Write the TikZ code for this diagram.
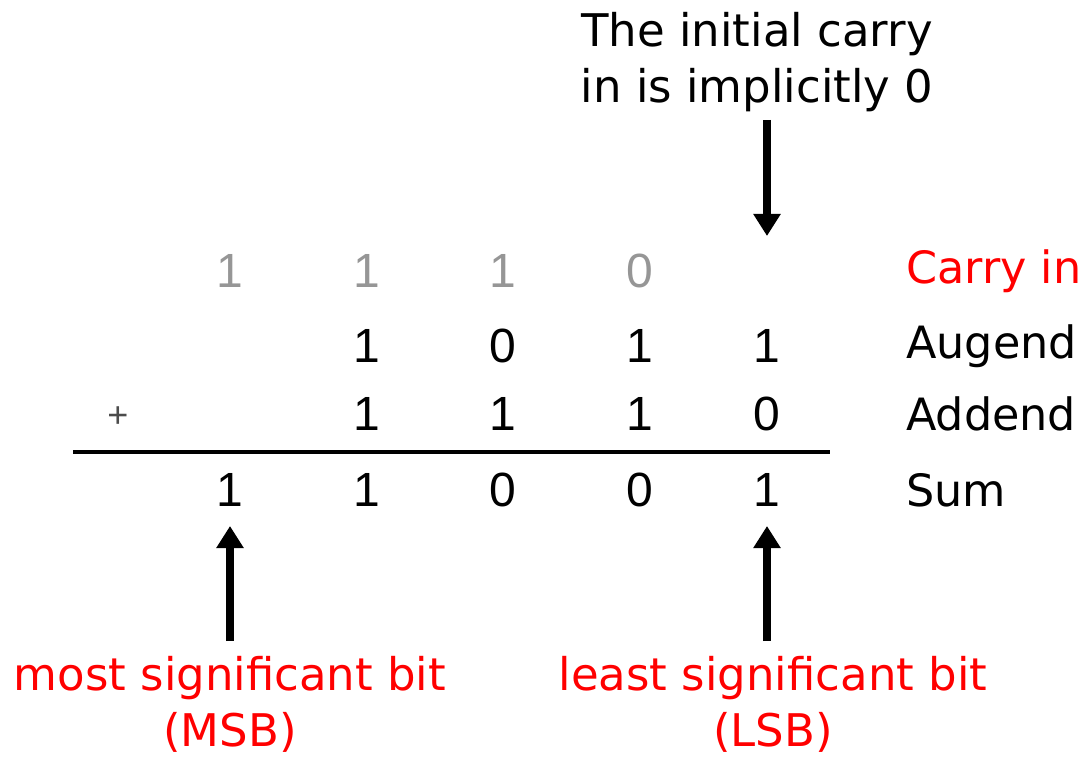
\documentclass[tikz,border=0pt]{standalone}
\usepackage{fontspec}
\setmainfont{DejaVu Sans}
\newfontfamily\digitfont{Liberation Sans}
\usetikzlibrary{arrows.meta}
\definecolor{cred}{RGB}{255,0,0}
\definecolor{cgray}{RGB}{150,150,150}
\begin{document}
\begin{tikzpicture}[x=1pt,y=-1pt,
  dig/.style={inner sep=0pt,font=\digitfont\fontsize{48}{52}\selectfont},
  carrydig/.style={dig,text=cgray},
  lbl/.style={inner sep=0pt,anchor=west,font=\fontsize{44.5}{50}\selectfont},
  note/.style={inner sep=0pt,align=center,font=\fontsize{45}{56}\selectfont},
  bigarrow/.style={line width=8pt,-{Triangle[width=26pt,length=22pt]}}]
\useasboundingbox (0,0) rectangle (1085,759);
% carry row
\node[carrydig] (c4) at (230,271) {1};
\node[carrydig] (c3) at (367,271) {1};
\node[carrydig] (c2) at (503,271) {1};
\node[carrydig] (c1) at (640,271) {0};
\coordinate (c0) at (767,236);
% augend
\node[dig] (a3) at (367,346) {1};
\node[dig] (a2) at (503,346) {0};
\node[dig] (a1) at (640,346) {1};
\node[dig] (a0) at (767,346) {1};
% addend
\node[inner sep=0pt,text=black!70,font=\digitfont\fontsize{36}{38}\selectfont] (plus) at (118,417) {+};
\node[dig] (b3) at (367,414) {1};
\node[dig] (b2) at (503,414) {1};
\node[dig] (b1) at (640,414) {1};
\node[dig] (b0) at (767,414) {0};
% rule
\coordinate (r1) at (73,452);
\coordinate (r2) at (830,452);
\draw[line width=4.5pt] (r1) -- (r2);
% sum
\node[dig] (s4) at (230,490) {1};
\node[dig] (s3) at (367,490) {1};
\node[dig] (s2) at (503,490) {0};
\node[dig] (s1) at (640,490) {0};
\node[dig] (s0) at (767,490) {1};
% labels
\node[lbl,text=cred] (lc) at (906,271) {Carry in};
\node[lbl] (la) at (906,346) {Augend};
\node[lbl] (lb) at (906,414) {Addend};
\node[lbl] (ls) at (906,490) {Sum};
% notes
\node[note] (top) at (757,62) {The initial carry\\in is implicitly 0};
\node[note,text=cred] (msb) at (230,704) {most significant bit\\(MSB)};
\node[note,text=cred] (lsb) at (773,704) {least significant bit\\(LSB)};
% arrows
\coordinate (tstart) at (767,120);
\draw[bigarrow] (tstart) -- (c0);
\coordinate (m0) at (230,641);
\coordinate (m1) at (230,526);
\draw[bigarrow] (m0) -- (m1);
\coordinate (l0) at (767,641);
\coordinate (l1) at (767,526);
\draw[bigarrow] (l0) -- (l1);
\end{tikzpicture}
\end{document}
